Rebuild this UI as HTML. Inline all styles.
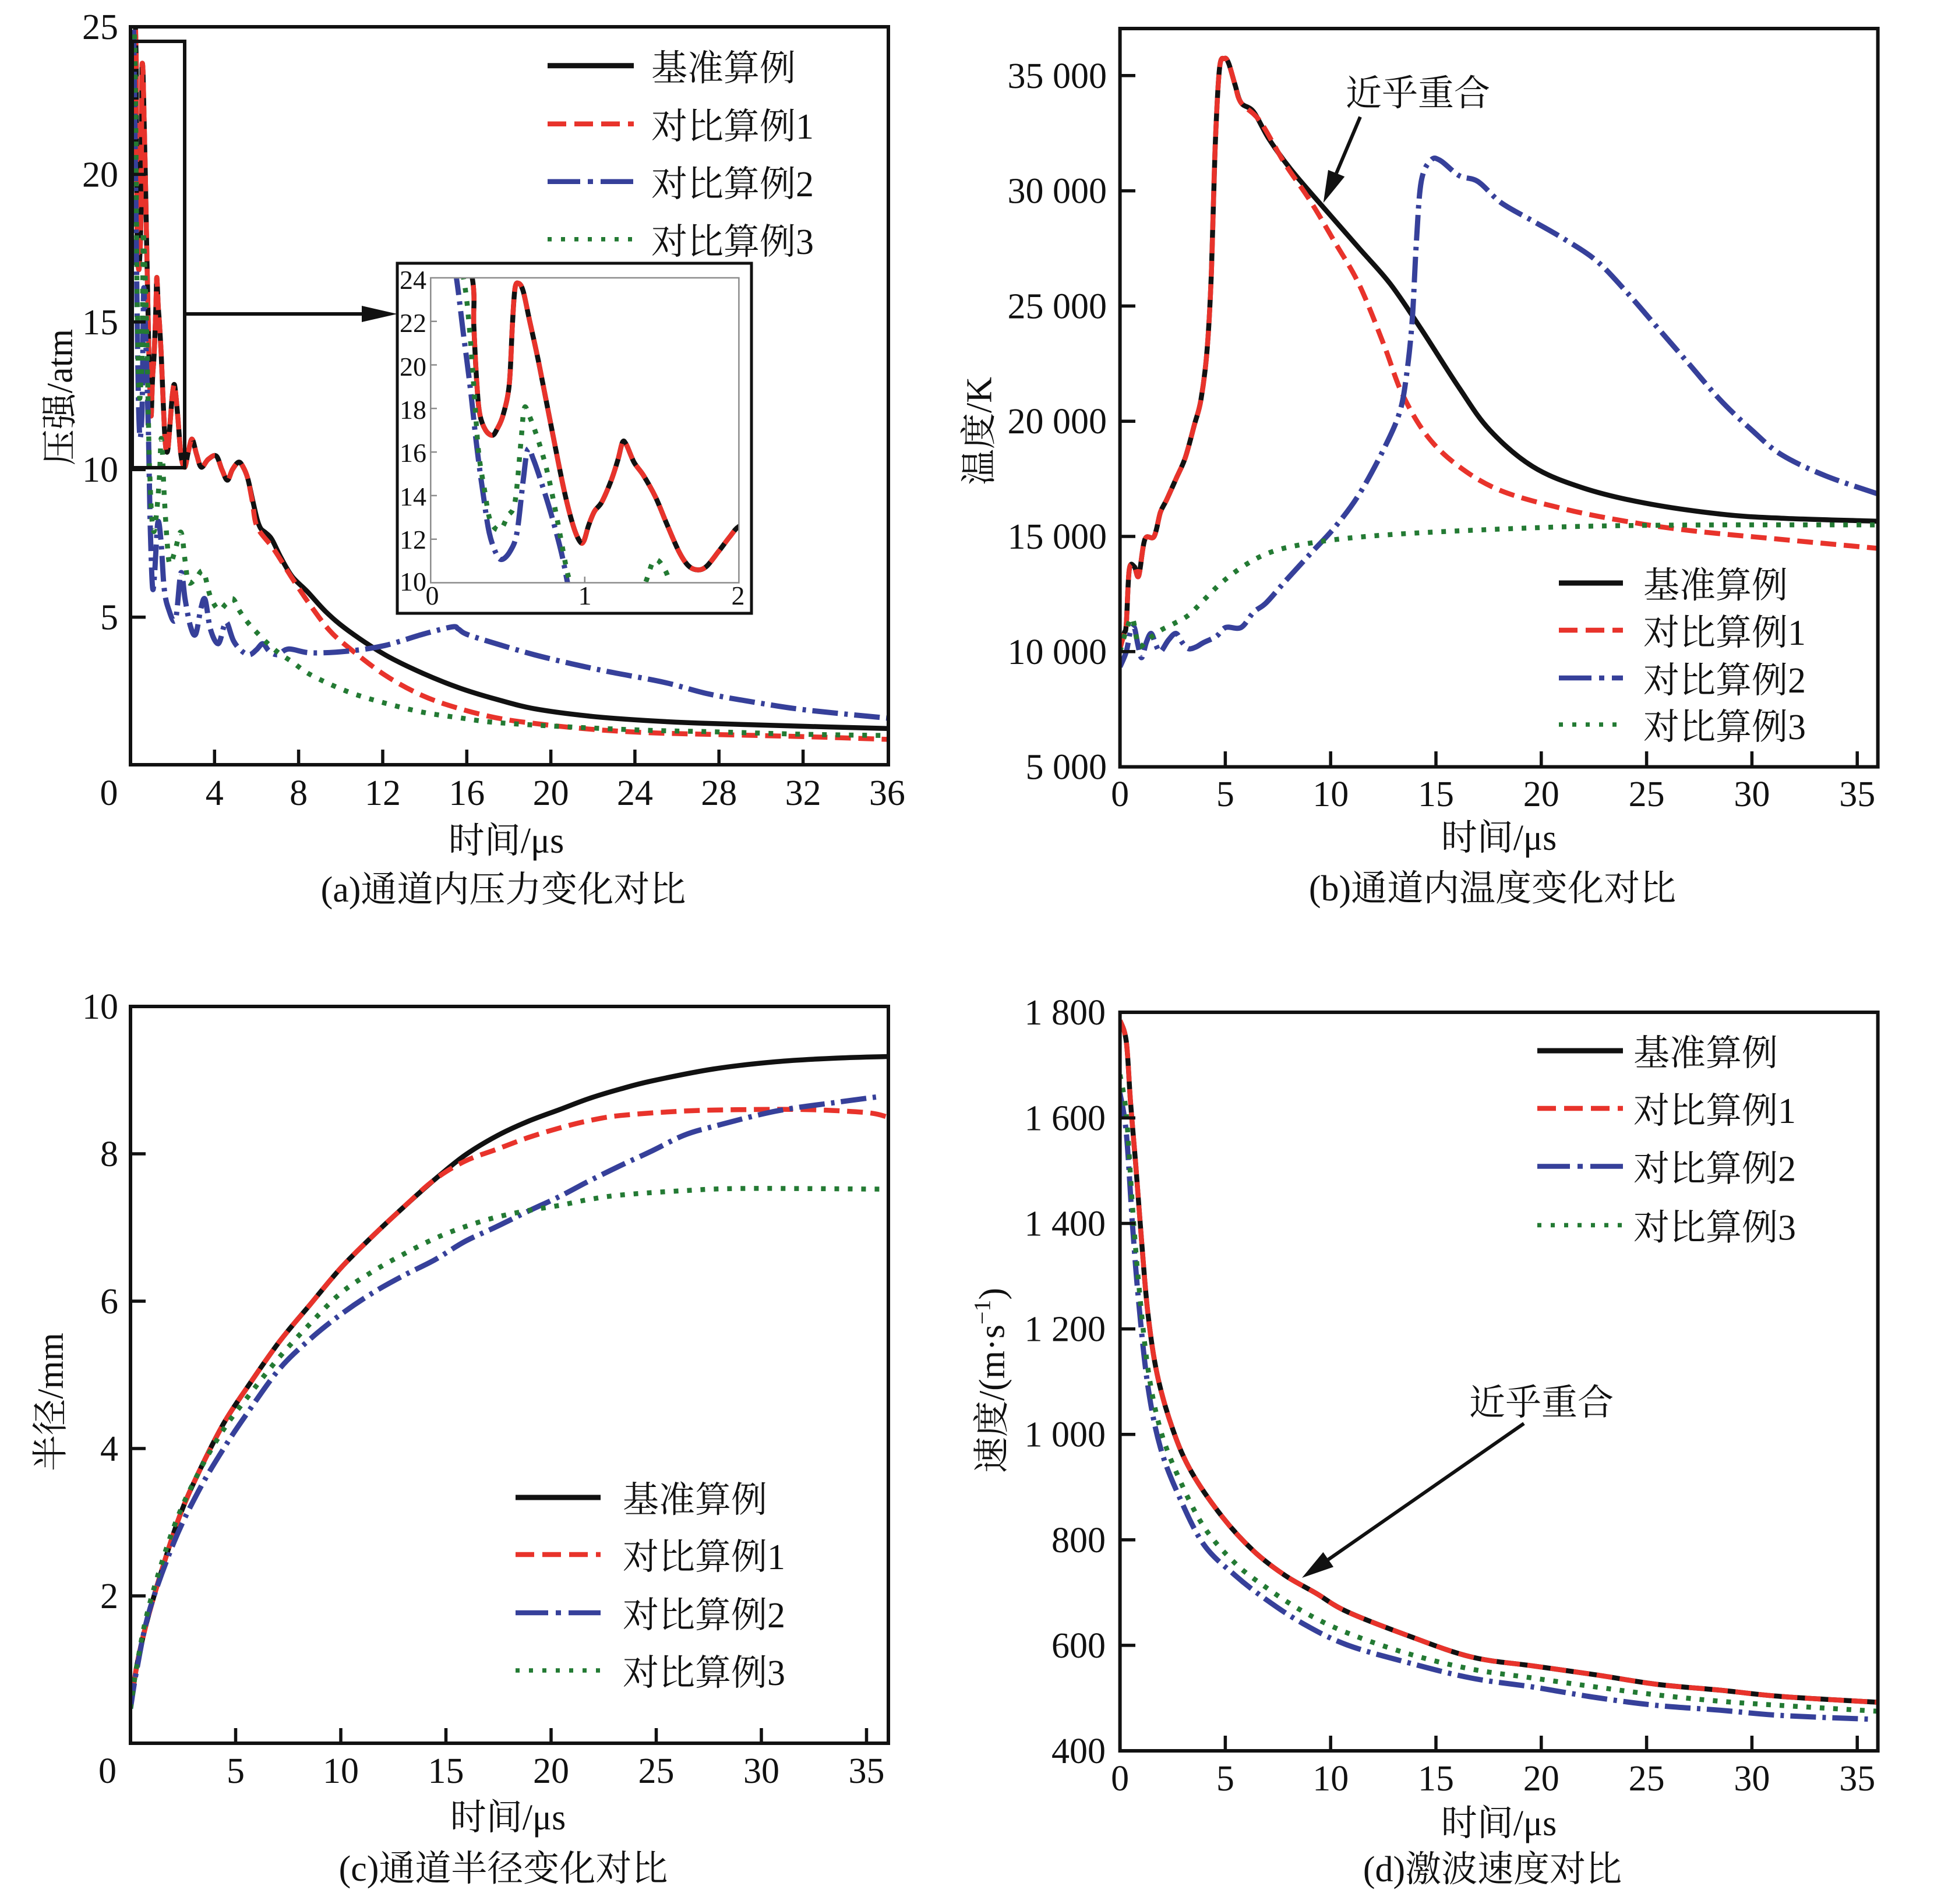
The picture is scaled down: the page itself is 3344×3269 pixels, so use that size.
<!DOCTYPE html>
<html>
<head>
<meta charset="utf-8">
<style>
html,body{margin:0;padding:0;background:#fff;}
svg text{font-family:"Liberation Serif","Noto Serif CJK SC",serif;font-size:62px;fill:#111;}
svg text.in{font-size:46px;}
</style>
</head>
<body>
<svg id="root" xmlns="http://www.w3.org/2000/svg" width="3344" height="3264" viewBox="0 0 3344 3264">
<rect x="0" y="0" width="3344" height="3264" fill="#fff"/>
<defs>
<clipPath id="ca"><rect x="224" y="46" width="1301" height="1267"/></clipPath>
<clipPath id="cb"><rect x="1922.6" y="49" width="1301" height="1267.6"/></clipPath>
<clipPath id="cc"><rect x="224" y="1728" width="1301" height="1265"/></clipPath>
<clipPath id="cd"><rect x="1922.6" y="1738" width="1301" height="1268"/></clipPath>
<clipPath id="ci"><rect x="739.3" y="477" width="529.1" height="523.5"/></clipPath>
</defs>

<g id="curves-a" clip-path="url(#ca)"></g>
<g id="curves-b" clip-path="url(#cb)"></g>
<g id="curves-c" clip-path="url(#cc)"></g>
<g id="curves-d" clip-path="url(#cd)"></g>

<!-- ===== Panel (a) ===== -->
<rect x="224" y="46" width="1301" height="1267" fill="none" stroke="#111" stroke-width="6"/>
<path d="M368.3,1313V1287M512.6,1313V1287M657,1313V1287M801.3,1313V1287M945.6,1313V1287M1089.9,1313V1287M1234.2,1313V1287M1378.6,1313V1287M224,1059.6H250M224,806.2H250M224,552.8H250M224,299.4H250" stroke="#111" stroke-width="5.5" fill="none"/>
<g text-anchor="end">
<text x="203" y="1080.6">5</text>
<text x="203" y="827.2">10</text>
<text x="203" y="573.8">15</text>
<text x="203" y="320.4">20</text>
<text x="203" y="67">25</text>
</g>
<g text-anchor="middle">
<text x="187" y="1382">0</text>
<text x="368.3" y="1382">4</text>
<text x="512.6" y="1382">8</text>
<text x="657" y="1382">12</text>
<text x="801.3" y="1382">16</text>
<text x="945.6" y="1382">20</text>
<text x="1089.9" y="1382">24</text>
<text x="1234.2" y="1382">28</text>
<text x="1378.6" y="1382">32</text>
<text x="1522.9" y="1382">36</text>
<text x="869" y="1464">时间/μs</text>
<text x="864" y="1548">(a)通道内压力变化对比</text>
<text transform="translate(123.5,682) rotate(-90)">压强/atm</text>
</g>
<!-- zoom box + arrow -->
<rect x="227" y="71" width="90" height="732" fill="none" stroke="#111" stroke-width="6"/>
<line x1="317" y1="539" x2="626" y2="539" stroke="#111" stroke-width="6"/>
<polygon points="621,525 682,539 621,553" fill="#111"/>
<!-- legend (a) -->
<g id="leg-a"></g>
<text x="1118" y="138">基准算例</text>
<text x="1118" y="238">对比算例1</text>
<text x="1118" y="337">对比算例2</text>
<text x="1118" y="436">对比算例3</text>

<!-- inset -->
<rect x="682" y="452" width="608" height="601" fill="#fff" stroke="#111" stroke-width="5"/>
<g id="curves-i" clip-path="url(#ci)"></g>
<rect x="739.3" y="477" width="529.1" height="523.5" fill="none" stroke="#8c8c8c" stroke-width="2.5"/>
<path d="M739.3,551.8H750M739.3,626.5H750M739.3,701.3H750M739.3,776.1H750M739.3,850.9H750M739.3,925.7H750M1003.8,1000.5V990" stroke="#8c8c8c" stroke-width="2.5" fill="none"/>
<g text-anchor="end">
<text class="in" x="732" y="496">24</text>
<text class="in" x="732" y="570">22</text>
<text class="in" x="732" y="645">20</text>
<text class="in" x="732" y="719">18</text>
<text class="in" x="732" y="793">16</text>
<text class="in" x="732" y="868">14</text>
<text class="in" x="732" y="942">12</text>
<text class="in" x="732" y="1014">10</text>
</g>
<g text-anchor="middle">
<text class="in" x="742" y="1038">0</text>
<text class="in" x="1004" y="1038">1</text>
<text class="in" x="1267" y="1038">2</text>
</g>

<!-- ===== Panel (b) ===== -->
<rect x="1922.6" y="49" width="1301" height="1267.6" fill="none" stroke="#111" stroke-width="6"/>
<path d="M2103.4,1316.6V1290M2284.2,1316.6V1290M2465,1316.6V1290M2645.8,1316.6V1290M2826.6,1316.6V1290M3007.4,1316.6V1290M3188.2,1316.6V1290M1922.6,1118.8H1949M1922.6,921H1949M1922.6,723.2H1949M1922.6,525.4H1949M1922.6,327.6H1949M1922.6,129.8H1949" stroke="#111" stroke-width="5.5" fill="none"/>
<g text-anchor="end">
<text x="1900" y="1337.6">5 000</text>
<text x="1900" y="1139.8">10 000</text>
<text x="1900" y="942">15 000</text>
<text x="1900" y="744.2">20 000</text>
<text x="1900" y="546.4">25 000</text>
<text x="1900" y="348.6">30 000</text>
<text x="1900" y="150.8">35 000</text>
</g>
<g text-anchor="middle">
<text x="1922.6" y="1384">0</text>
<text x="2103.4" y="1384">5</text>
<text x="2284.2" y="1384">10</text>
<text x="2465" y="1384">15</text>
<text x="2645.8" y="1384">20</text>
<text x="2826.6" y="1384">25</text>
<text x="3007.4" y="1384">30</text>
<text x="3188.2" y="1384">35</text>
<text x="2573" y="1459">时间/μs</text>
<text x="2562" y="1546">(b)通道内温度变化对比</text>
<text transform="translate(1701.5,740) rotate(-90)">温度/K</text>
</g>
<text x="2310" y="181">近乎重合</text>
<line x1="2335" y1="200.7" x2="2294" y2="297.5" stroke="#111" stroke-width="6"/>
<polygon points="2280,291.7 2308.3,303.3 2271.7,348.3" fill="#111"/>
<g id="leg-b"></g>
<text x="2821" y="1026">基准算例</text>
<text x="2821" y="1107">对比算例1</text>
<text x="2821" y="1189">对比算例2</text>
<text x="2821" y="1269">对比算例3</text>

<!-- ===== Panel (c) ===== -->
<rect x="224" y="1728" width="1301" height="1265" fill="none" stroke="#111" stroke-width="6"/>
<path d="M404.5,2993V2967M585,2993V2967M765.5,2993V2967M946,2993V2967M1126.5,2993V2967M1307,2993V2967M1487.5,2993V2967M224,2740H250M224,2487H250M224,2234H250M224,1981H250" stroke="#111" stroke-width="5.5" fill="none"/>
<g text-anchor="end">
<text x="203" y="2761">2</text>
<text x="203" y="2508">4</text>
<text x="203" y="2255">6</text>
<text x="203" y="2002">8</text>
<text x="203" y="1749">10</text>
</g>
<g text-anchor="middle">
<text x="184.5" y="3061">0</text>
<text x="404.5" y="3061">5</text>
<text x="585" y="3061">10</text>
<text x="765.5" y="3061">15</text>
<text x="946" y="3061">20</text>
<text x="1126.5" y="3061">25</text>
<text x="1307" y="3061">30</text>
<text x="1487.5" y="3061">35</text>
<text x="872" y="3141">时间/μs</text>
<text x="864" y="3229">(c)通道半径变化对比</text>
<text transform="translate(107.5,2407) rotate(-90)">半径/mm</text>
</g>
<g id="leg-c"></g>
<text x="1069" y="2596">基准算例</text>
<text x="1069" y="2694">对比算例1</text>
<text x="1069" y="2794">对比算例2</text>
<text x="1069" y="2893">对比算例3</text>

<!-- ===== Panel (d) ===== -->
<rect x="1922.6" y="1738" width="1301" height="1268" fill="none" stroke="#111" stroke-width="6"/>
<path d="M2103.4,3006V2980M2284.2,3006V2980M2465,3006V2980M2645.8,3006V2980M2826.6,3006V2980M3007.4,3006V2980M3188.2,3006V2980M1922.6,2824.9H1949M1922.6,2643.8H1949M1922.6,2462.7H1949M1922.6,2281.6H1949M1922.6,2100.5H1949M1922.6,1919.4H1949" stroke="#111" stroke-width="5.5" fill="none"/>
<g text-anchor="end">
<text x="1898" y="3027">400</text>
<text x="1898" y="2845.9">600</text>
<text x="1898" y="2664.8">800</text>
<text x="1898" y="2483.7">1 000</text>
<text x="1898" y="2302.6">1 200</text>
<text x="1898" y="2121.5">1 400</text>
<text x="1898" y="1940.4">1 600</text>
<text x="1898" y="1759">1 800</text>
</g>
<g text-anchor="middle">
<text x="1922.6" y="3074">0</text>
<text x="2103.4" y="3074">5</text>
<text x="2284.2" y="3074">10</text>
<text x="2465" y="3074">15</text>
<text x="2645.8" y="3074">20</text>
<text x="2826.6" y="3074">25</text>
<text x="3007.4" y="3074">30</text>
<text x="3188.2" y="3074">35</text>
<text x="2573" y="3151">时间/μs</text>
<text x="2562" y="3230">(d)激波速度对比</text>
<text transform="translate(1723.5,2370) rotate(-90)">速度/(m·s<tspan dy="-24" font-size="40">−1</tspan><tspan dy="24">)</tspan></text>
</g>
<text x="2522" y="2429">近乎重合</text>
<line x1="2616" y1="2444" x2="2280.2" y2="2677.6" stroke="#111" stroke-width="6"/>
<polygon points="2289.1,2690.3 2271.4,2664.9 2235,2709" fill="#111"/>
<g id="leg-d"></g>
<text x="2804" y="1829">基准算例</text>
<text x="2804" y="1928">对比算例1</text>
<text x="2804" y="2027.5">对比算例2</text>
<text x="2804" y="2128.5">对比算例3</text>
</svg>

<script>
(function(){
var NS="http://www.w3.org/2000/svg";
var ST={
 k:{c:"#111111",d:null,w:8.5},
 r:{c:"#e8332b",d:"27 13",w:8.5},
 b:{c:"#36409a",d:"44 11 6 11",w:9},
 g:{c:"#237a33",d:"8 15",w:8.5}
};
var LG={
 k:{d:null,w:9},
 r:{d:"32 14",w:8.5},
 b:{d:"56 13 9 13",w:8.5},
 g:{d:"7 16",w:7.5}
};
function f(v){return (Math.round(v*10)/10).toString();}
function cr(q){
 var d="M"+f(q[0][0])+","+f(q[0][1]);
 for(var i=0;i<q.length-1;i++){
  var p0=q[i-1]||q[i],p1=q[i],p2=q[i+1],p3=q[i+2]||q[i+1];
  var c1x=p1[0]+(p2[0]-p0[0])/6,c1y=p1[1]+(p2[1]-p0[1])/6;
  var c2x=p2[0]-(p3[0]-p1[0])/6,c2y=p2[1]-(p3[1]-p1[1])/6;
  d+="C"+f(c1x)+","+f(c1y)+" "+f(c2x)+","+f(c2y)+" "+f(p2[0])+","+f(p2[1]);
 }
 return d;
}
function add(gid,pts,X,Y,s){
 var g=document.getElementById(gid);
 var q=pts.map(function(p){return [X(p[0]),Y(p[1])];});
 var e=document.createElementNS(NS,"path");
 e.setAttribute("d",cr(q));
 e.setAttribute("fill","none");
 e.setAttribute("stroke",ST[s].c);
 e.setAttribute("stroke-width",ST[s].w);
 e.setAttribute("stroke-linejoin","round");
 if(ST[s].d){e.setAttribute("stroke-dasharray",ST[s].d);}
 g.appendChild(e);
}
function leg(gid,x1,x2,ys){
 var g=document.getElementById(gid);
 var keys=["k","r","b","g"];
 for(var i=0;i<4;i++){
  var s=LG[keys[i]];
  var e=document.createElementNS(NS,"line");
  e.setAttribute("x1",x1);e.setAttribute("x2",x2);
  e.setAttribute("y1",ys[i]);e.setAttribute("y2",ys[i]);
  e.setAttribute("stroke",ST[keys[i]].c);
  e.setAttribute("stroke-width",s.w);
  if(s.d){e.setAttribute("stroke-dasharray",s.d);}
  g.appendChild(e);
 }
}

/* ---------- data (a) ---------- */
var kA=[[0,32],[0.15,27.5],[0.27,24],[0.28,21.8],[0.30,19.1],[0.32,17.7],[0.357,17.0],[0.40,16.77],[0.43,17.04],[0.47,17.7],[0.51,19.1],[0.53,21.8],[0.547,23.5],[0.57,23.75],[0.60,23.4],[0.64,22.1],[0.70,20.15],[0.79,16.9],[0.866,14.24],[0.926,12.6],[0.97,11.88],[0.995,11.93],[1.025,12.63],[1.063,13.28],[1.11,13.7],[1.17,14.67],[1.215,15.64],[1.245,16.45],[1.27,16.34],[1.32,15.53],[1.38,14.94],[1.46,13.92],[1.53,12.74],[1.61,11.45],[1.67,10.8],[1.73,10.59],[1.79,10.75],[1.87,11.45],[1.94,12.1],[2.0,12.58],[2.1,12.85],[2.25,11.8],[2.4,10.5],[2.58,10.08],[2.75,10.6],[2.93,11.03],[3.15,10.5],[3.37,10.08],[3.7,10.35],[4.08,10.46],[4.35,10.0],[4.61,9.64],[4.85,10.0],[5.14,10.25],[5.35,10.1],[5.58,9.7]];
var kAtail=[[5.8,9.0],[6.03,8.3],[6.2,8.0],[6.45,7.85],[6.73,7.63],[7.17,7.0],[7.7,6.37],[8.41,5.87],[9.3,5.18],[10.35,4.55],[12.1,3.73],[13.9,3.1],[15.66,2.6],[17.4,2.22],[19.2,1.9],[21.8,1.65],[24.5,1.5],[27.5,1.4],[32.2,1.30],[36,1.23]];
var rAtail=[[5.8,8.9],[6.03,8.05],[6.82,7.3],[7.7,6.31],[8.59,5.37],[9.47,4.55],[10.36,3.98],[12.1,3.04],[13.9,2.34],[15.66,1.9],[17.4,1.59],[19.2,1.4],[21.8,1.21],[24.5,1.09],[27.5,1.03],[32.2,0.95],[36,0.86]];
var bA=[[0,32],[0.1,27],[0.167,24],[0.213,21.4],[0.258,18.9],[0.30,16.2],[0.342,14.0],[0.38,12.3],[0.425,11.34],[0.463,11.07],[0.516,11.45],[0.56,12.3],[0.60,14.67],[0.63,16.12],[0.668,15.64],[0.73,14.35],[0.79,12.95],[0.85,11.34],[0.888,10.0],[0.95,7.8],[1.05,6.0],[1.15,6.5],[1.3,8.2],[1.45,7.6],[1.6,6.0],[1.8,5.3],[2.14,4.92],[2.4,6.5],[2.6,5.6],[2.85,4.7],[3.1,4.42],[3.35,5.3],[3.55,5.6],[3.8,4.6],[4.17,4.1],[4.45,4.7],[4.6,4.8],[4.9,4.2],[5.3,3.85],[5.67,3.73],[6.0,3.9],[6.3,4.1],[6.6,3.85],[7.0,3.73],[7.53,3.92],[8.59,3.79],[10.36,3.85],[12.1,4.04],[13.9,4.42],[15.3,4.67],[15.6,4.6],[16,4.42],[17.4,4.1],[19.2,3.73],[21,3.42],[22.7,3.16],[25.4,2.79],[27.5,2.4],[30,2.08],[32.2,1.85],[36,1.58]];
var gA=[[0,32],[0.12,27],[0.213,24],[0.25,21.8],[0.28,19.0],[0.31,16.07],[0.35,14.24],[0.387,12.85],[0.448,12.42],[0.50,13.06],[0.547,13.7],[0.585,16.4],[0.607,18.0],[0.638,17.7],[0.70,16.5],[0.76,15.0],[0.82,12.95],[0.88,10.7],[0.91,10.0],[1.0,8.5],[1.12,7.9],[1.25,8.6],[1.38,9.8],[1.45,11.02],[1.52,10.6],[1.6,9.2],[1.75,7.5],[1.87,6.8],[2.1,7.2],[2.4,7.88],[2.6,6.9],[2.76,6.18],[3.1,6.3],[3.46,6.55],[3.8,5.7],[4.2,5.25],[4.55,5.45],[4.88,5.62],[5.2,5.2],[5.76,4.67],[6.82,3.92],[7.7,3.48],[8.59,3.04],[10.36,2.47],[12.1,2.09],[13.9,1.78],[15.66,1.59],[17.4,1.43],[20.9,1.28],[24.5,1.17],[27.5,1.12],[32.2,1.03],[36,0.99]];
var XA=function(t){return 224+t*36.08;}, YA=function(p){return 1313-p*50.68;};
add("curves-a",kA.concat(kAtail),XA,YA,"k");
add("curves-a",kA.concat(rAtail),XA,YA,"r");
add("curves-a",bA,XA,YA,"b");
add("curves-a",gA,XA,YA,"g");
function cut(a,tmax){var o=[];for(var i=0;i<a.length;i++){if(a[i][0]<=tmax)o.push(a[i]);}return o;}
var XI=function(t){return 739.3+t*264.5;}, YI=function(p){return 1000.5-(p-10)*37.39;};
add("curves-i",cut(kA.concat(kAtail),2.4),XI,YI,"k");
add("curves-i",cut(kA.concat(rAtail),2.4),XI,YI,"r");
add("curves-i",cut(bA,1.2),XI,YI,"b");
add("curves-i",cut(gA,1.8),XI,YI,"g");
leg("leg-a",940,1088,[112.7,212.7,311.7,410.7]);

/* ---------- data (b) ---------- */
var kB=[[0,10130],[0.2,10800],[0.3,11190],[0.44,13550],[0.68,13690],[0.89,13290],[1.18,14870],[1.62,15000],[1.92,16050],[2.21,16580],[2.66,17500],[3.1,18420],[3.54,19870],[3.84,20920],[4.13,23030],[4.34,26450],[4.51,31710],[4.72,35270],[4.96,35740],[5.16,35530],[5.46,34610],[5.75,33820]];
var kBt=[[6.34,33430],[7.08,32240],[8.11,30930],[9.59,29350],[11.36,27500],[12.84,25950],[14.3,24000],[16.1,21450],[17.56,19610],[19.6,18030],[22,17100],[24.9,16450],[28.5,15970],[31.4,15790],[36,15660]];
var rBt=[[6.64,33030],[7.82,31190],[9,29610],[10.2,27770],[11.36,25920],[12.54,23290],[13.4,21190],[14.6,19340],[16.1,18030],[18.1,16980],[21.1,16190],[24,15660],[27,15260],[31.4,14870],[36,14480]];
var bB=[[0,9340],[0.3,10000],[0.5,10900],[0.68,11050],[0.85,10300],[1.03,9740],[1.25,10400],[1.48,10790],[1.7,10300],[1.92,10000],[2.3,10500],[2.66,10790],[2.95,10400],[3.25,10130],[3.6,10200],[3.98,10400],[4.57,10660],[5.02,11050],[5.75,11050],[6.34,11710],[6.93,12110],[7.82,13030],[9,14210],[10.2,15400],[11.36,16840],[12.54,18820],[13.28,20400],[13.6,21980],[13.87,24340],[14.07,27770],[14.3,30400],[14.75,31320],[15.2,31320],[16.1,30660],[17,30400],[18.1,29480],[19.6,28690],[21.1,27900],[22.6,26980],[24,25660],[25.5,24080],[27,22500],[28.5,20920],[30,19610],[31.4,18550],[33.5,17630],[36,16840]];
var gB=[[0,10000],[0.3,10920],[0.59,11450],[0.89,10260],[1.33,10530],[1.92,10920],[2.5,11190],[3.25,11580],[3.98,12240],[4.87,13030],[6.05,13820],[7.23,14340],[8.7,14660],[10.77,14920],[13.7,15130],[18.1,15320],[22.6,15450],[28.5,15500],[36,15500]];
var XB=function(t){return 1922.6+t*36.16;}, YB=function(v){return 1316.6-(v-5000)*0.03956;};
add("curves-b",kB.concat(kBt),XB,YB,"k");
add("curves-b",kB.concat(rBt),XB,YB,"r");
add("curves-b",bB,XB,YB,"b");
add("curves-b",gB,XB,YB,"g");
leg("leg-b",2676,2786,[1001,1082,1164,1244]);

/* ---------- data (c) ---------- */
var kC=[[0,0.5],[0.3,1.05],[0.75,1.62],[1.5,2.36],[2.36,3.1],[3.25,3.68],[4.43,4.34],[5.6,4.85],[7.08,5.45],[8.56,5.96],[10,6.45],[11.5,6.88],[13,7.28],[14.46,7.65]];
var kCt=[[15.9,7.98],[17.4,8.24],[18.9,8.44],[20.4,8.6],[21.8,8.75],[23.3,8.88],[24.8,8.99],[27.7,9.15],[30.7,9.25],[33.6,9.3],[36,9.32]];
var rCt=[[15.9,7.9],[17.4,8.06],[18.9,8.22],[20.4,8.35],[21.8,8.45],[23.3,8.52],[26.3,8.58],[29.2,8.6],[32.2,8.6],[35,8.56],[36,8.5]];
var bC=[[0,0.47],[0.3,1.0],[0.89,1.79],[2.07,2.73],[3.25,3.43],[4.43,4.0],[5.6,4.5],[7.08,5.08],[8.56,5.49],[10,5.82],[11.5,6.11],[13,6.35],[14.46,6.56],[15.9,6.81],[17.4,7.01],[18.9,7.22],[20.4,7.42],[21.8,7.63],[23.3,7.84],[24.8,8.04],[26.3,8.25],[27.7,8.37],[30.7,8.58],[33.6,8.70],[35.7,8.78]];
var gC=[[0,0.47],[0.3,1.05],[0.89,1.87],[2.07,2.94],[3.25,3.68],[4.43,4.26],[5.6,4.71],[7.08,5.24],[8.56,5.70],[10,6.11],[11.5,6.40],[13,6.64],[14.46,6.85],[15.9,7.01],[17.4,7.14],[18.9,7.23],[20.4,7.30],[21.8,7.38],[23.3,7.44],[26.3,7.50],[29.2,7.53],[36,7.52]];
var XC=function(t){return 224+t*36.1;}, YC=function(r){return 2993-r*126.5;};
add("curves-c",kC.concat(kCt),XC,YC,"k");
add("curves-c",kC.concat(rCt),XC,YC,"r");
add("curves-c",bC,XC,YC,"b");
add("curves-c",gC,XC,YC,"g");
leg("leg-c",885,1031,[2571,2669,2769,2868]);

/* ---------- data (d) ---------- */
var kD=[[0,1785],[0.3,1745],[0.5,1630],[0.74,1515],[1.03,1365],[1.33,1228],[1.77,1113],[2.51,1009],[3.39,929],[4.87,843],[6.34,779],[7.82,733],[9.3,699],[10.77,664],[13.7,618],[16.67,578],[19.6,561],[22.6,544],[25.5,526],[28.5,515],[31.4,503],[36,492]];
var bD=[[0,1647],[0.3,1572],[0.59,1400],[0.89,1250],[1.33,1090],[1.92,975],[2.8,883],[3.98,791],[5.46,733],[6.93,687],[8.7,641],[10.77,601],[13.7,567],[16.67,538],[19.6,521],[22.6,501],[25.5,486],[28.5,477],[31.4,467],[35.6,460]];
var gD=[[0,1682],[0.3,1607],[0.59,1434],[0.89,1285],[1.33,1124],[1.92,1009],[2.8,917],[3.98,825],[5.46,756],[6.93,710],[8.7,664],[10.77,624],[13.7,584],[16.67,555],[19.6,538],[22.6,521],[25.5,506],[28.5,494],[31.4,486],[36,475]];
var XD=function(t){return 1922.6+t*36.16;}, YD=function(v){return 3006-(v-400)*0.9055;};
add("curves-d",kD,XD,YD,"k");
add("curves-d",kD,XD,YD,"r");
add("curves-d",bD,XD,YD,"b");
add("curves-d",gD,XD,YD,"g");
leg("leg-d",2639,2786,[1804,1903,2002.5,2103.5]);
})();
</script>
</body>
</html>
